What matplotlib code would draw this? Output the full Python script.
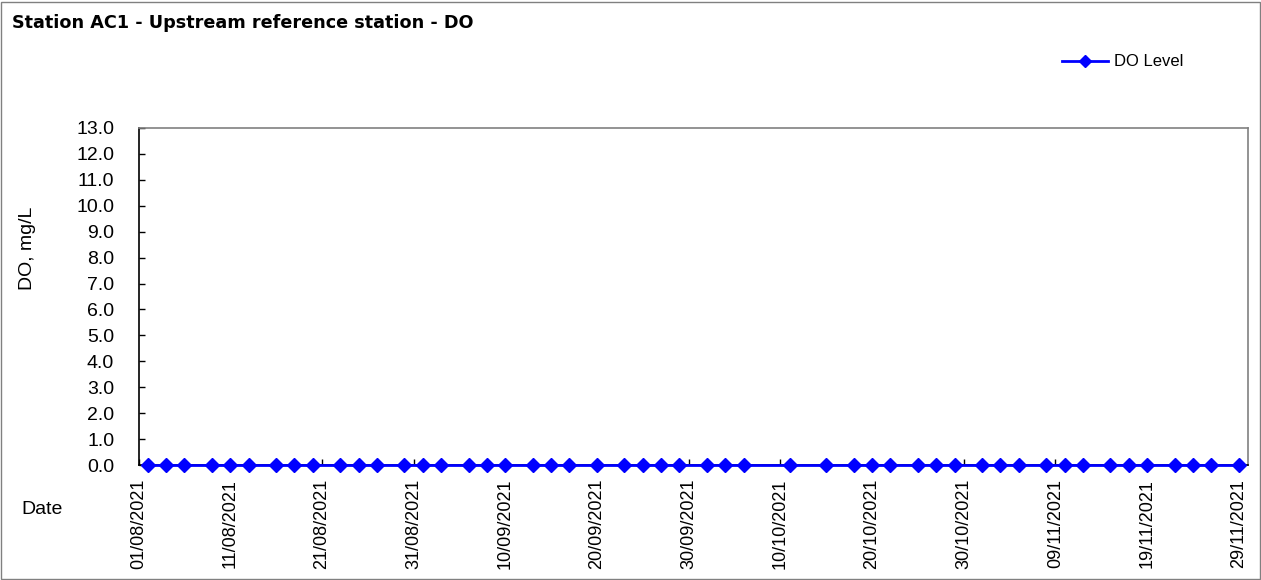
import matplotlib
matplotlib.use("Agg")
import matplotlib.pyplot as plt
from matplotlib.patches import Rectangle
from datetime import datetime

plt.rcParams['font.family'] = ['Liberation Sans', 'DejaVu Sans']

title = "Station AC1 - Upstream reference station - DO"
series_name = "DO Level"
y_label = "DO, mg/L"
x_label = "Date"

sample_dates = [
    "02/08/2021", "04/08/2021", "06/08/2021", "09/08/2021", "11/08/2021", "13/08/2021",
    "16/08/2021", "18/08/2021", "20/08/2021", "23/08/2021", "25/08/2021", "27/08/2021",
    "30/08/2021", "01/09/2021", "03/09/2021", "06/09/2021", "08/09/2021", "10/09/2021",
    "13/09/2021", "15/09/2021", "17/09/2021", "20/09/2021", "23/09/2021", "25/09/2021",
    "27/09/2021", "29/09/2021", "02/10/2021", "04/10/2021", "06/10/2021", "11/10/2021",
    "15/10/2021", "18/10/2021", "20/10/2021", "22/10/2021", "25/10/2021", "27/10/2021",
    "29/10/2021", "01/11/2021", "03/11/2021", "05/11/2021", "08/11/2021", "10/11/2021",
    "12/11/2021", "15/11/2021", "17/11/2021", "19/11/2021", "22/11/2021", "24/11/2021",
    "26/11/2021", "29/11/2021",
]
do_values = [
    0.0, 0.0, 0.0, 0.0, 0.0, 0.0, 0.0, 0.0, 0.0, 0.0,
    0.0, 0.0, 0.0, 0.0, 0.0, 0.0, 0.0, 0.0, 0.0, 0.0,
    0.0, 0.0, 0.0, 0.0, 0.0, 0.0, 0.0, 0.0, 0.0, 0.0,
    0.0, 0.0, 0.0, 0.0, 0.0, 0.0, 0.0, 0.0, 0.0, 0.0,
    0.0, 0.0, 0.0, 0.0, 0.0, 0.0, 0.0, 0.0, 0.0, 0.0,
]
x_tick_labels = [
    "01/08/2021", "11/08/2021", "21/08/2021", "31/08/2021", "10/09/2021", "20/09/2021",
    "30/09/2021", "10/10/2021", "20/10/2021", "30/10/2021", "09/11/2021", "19/11/2021",
    "29/11/2021",
]
y_ticks = [0, 1, 2, 3, 4, 5, 6, 7, 8, 9, 10, 11, 12, 13]
x_start = "01/08/2021"
x_end = "30/11/2021"

fmt = "%d/%m/%Y"
dates = [datetime.strptime(d, fmt) for d in sample_dates]
xticks = [datetime.strptime(d, fmt) for d in x_tick_labels]

W, H = 1261, 580
fig = plt.figure(figsize=(W / 100, H / 100), dpi=100)
fig.patch.set_facecolor("white")

# outer chart border
fig.add_artist(Rectangle((1.5 / W, 1.5 / H), 1 - 3 / W, 1 - 3 / H,
                         transform=fig.transFigure, fill=False,
                         edgecolor="#808080", linewidth=1.0))

left, right, top, bottom = 138.5, 1248, 128, 465
ax = fig.add_axes([left / W, 1 - bottom / H, (right - left) / W, (bottom - top) / H])

line, = ax.plot(dates, do_values, color="#0000FF", linewidth=2.0,
                marker="D", markersize=7.5, markerfacecolor="#0000FF",
                markeredgecolor="#0000FF",
                label=series_name, clip_on=False, zorder=5)

ax.set_xlim(datetime.strptime(x_start, fmt), datetime.strptime(x_end, fmt))
ax.set_ylim(0, 13)
ax.set_yticks(y_ticks)
ax.set_yticklabels([f"{v:.1f}" for v in y_ticks])
ax.set_xticks(xticks)
ax.set_xticklabels(x_tick_labels, rotation=90, va="top", ha="center")

ax.tick_params(axis="y", direction="in", length=4, width=1, pad=17.5,
               labelsize=14, colors="black")
ax.tick_params(axis="x", direction="in", length=4, width=1, pad=10,
               labelsize=13, colors="black")

for s in ["left", "bottom"]:
    ax.spines[s].set_color("black")
    ax.spines[s].set_linewidth(1.2)
for s in ["top", "right"]:
    ax.spines[s].set_color("#808080")
    ax.spines[s].set_linewidth(1.2)

fig.text(12 / W, 1 - 23 / H, title, fontsize=12.7, fontweight="bold",
         family=["DejaVu Sans"], ha="left", va="center")
fig.text(27.5 / W, 1 - 248.5 / H, y_label, fontsize=14, rotation=90,
         ha="center", va="center")
fig.text(21 / W, 1 - 510 / H, x_label, fontsize=14, ha="left", va="center")

leg = fig.legend(handles=[line], loc="center left",
                 bbox_to_anchor=(1062 / W, 1 - 62 / H),
                 frameon=False, fontsize=12, borderpad=0, borderaxespad=0,
                 handlelength=2.75, handletextpad=0.35, numpoints=1,
                 markerscale=0.8)

fig.savefig("out.png", dpi=100)
